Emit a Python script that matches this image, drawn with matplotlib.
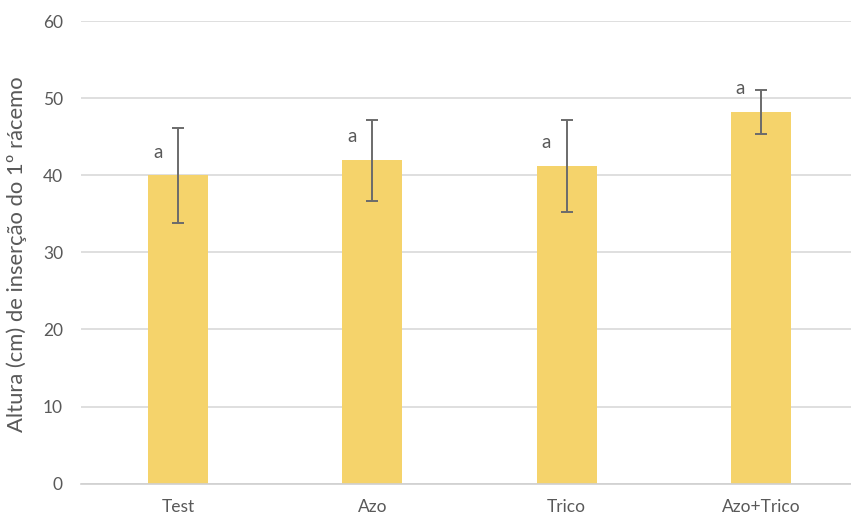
import matplotlib
matplotlib.use("Agg")
import matplotlib.pyplot as plt
import numpy as np

# data
categories = ["Test", "Azo", "Trico", "Azo+Trico"]
means = [40.0, 42.0, 41.2, 48.2]
err_low = [6.2, 5.3, 6.0, 2.9]
err_high = [6.2, 5.2, 6.0, 2.9]
letters = ["a", "a", "a", "a"]

plt.rcParams['font.family'] = ['Lato', 'DejaVu Sans']
text_color = '#595959'

fig = plt.figure(figsize=(8.51, 5.19), dpi=100)
ax = fig.add_axes([0.0952, 0.0682, 0.913, 0.891])

x = np.arange(len(categories))
ax.bar(x, means, width=0.31, color='#F5D36B', zorder=2)
ax.errorbar(x, means, yerr=[err_low, err_high], fmt='none',
            ecolor='#6b6b6b', elinewidth=1.4, capsize=4, capthick=1.4, zorder=3)

for xi, m, eh, lt in zip(x, means, err_high, letters):
    ax.text(xi - 0.105, m + 1.9, lt, ha='center', va='bottom',
            fontsize=13.5, color=text_color)

ax.set_xlim(-0.5, len(categories) - 0.5)
ax.set_ylim(0, 60)
ax.set_yticks(range(0, 61, 10))
ax.set_xticks(x)
ax.set_xticklabels(categories)
ax.yaxis.grid(True, color='#D9D9D9', linewidth=1.2, zorder=0)
ax.set_axisbelow(True)
for s in ['top', 'right', 'left']:
    ax.spines[s].set_visible(False)
ax.spines['bottom'].set_color('#D0D0D0')
ax.spines['bottom'].set_linewidth(1.2)
ax.tick_params(axis='both', length=0, labelsize=12.5, colors=text_color)
ax.tick_params(axis='y', pad=13)
ax.tick_params(axis='x', pad=11)

ax.set_ylabel("Altura (cm) de inserção do 1º rácemo", fontsize=15.8, color=text_color)
ax.yaxis.set_label_coords(-0.07, 0.497)

fig.savefig("out.png", dpi=100)
